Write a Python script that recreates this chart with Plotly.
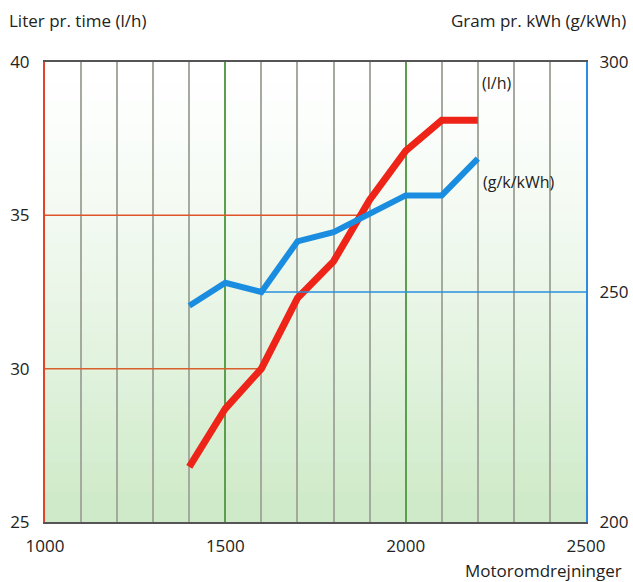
import plotly.graph_objects as go

rpm = [1400, 1500, 1600, 1700, 1800, 1900, 2000, 2100, 2200]
liter_per_hour = [26.8, 28.7, 30.0, 32.3, 33.5, 35.5, 37.1, 38.1, 38.1]
gram_per_kwh = [247, 252, 250, 261, 263, 267, 271, 271, 279]

ref_lh_35_x = [1000, 1870]
ref_lh_35_y = [35, 35]
ref_lh_30_x = [1000, 1600]
ref_lh_30_y = [30, 30]
ref_g_250_x = [1600, 2500]
ref_g_250_y = [250, 250]

x_ticks = [1000, 1500, 2000, 2500]
y_left_ticks = [25, 30, 35, 40]
y_right_ticks = [200, 250, 300]

FONT = "Open Sans"
RED = "#ee2418"
BLUE = "#1a8de0"

fig = go.Figure()

# background gradient (styling): white at top, pale green at bottom
shapes = []
n = 46
top_rgb = (255, 255, 255)
bot_rgb = (206, 234, 200)
for i in range(n):
    f0 = i / n
    f1 = (i + 1) / n
    t = 1 - (f0 + f1) / 2  # 1 at bottom, 0 at top
    t = min(1.0, t ** 1.3 * 1.05)
    c = tuple(round(top_rgb[k] + (bot_rgb[k] - top_rgb[k]) * t) for k in range(3))
    shapes.append(dict(type="rect", xref="paper", yref="paper", x0=0, x1=1, y0=f0, y1=f1 + 0.002,
                       fillcolor="rgb(%d,%d,%d)" % c, line=dict(width=0), layer="below"))

fig.add_trace(go.Scatter(x=ref_lh_35_x, y=ref_lh_35_y, mode="lines",
                         line=dict(color="#e0542a", width=1.5), showlegend=False))
fig.add_trace(go.Scatter(x=ref_lh_30_x, y=ref_lh_30_y, mode="lines",
                         line=dict(color="#d8602e", width=1.5), showlegend=False))
fig.add_trace(go.Scatter(x=ref_g_250_x, y=ref_g_250_y, mode="lines", yaxis="y2",
                         line=dict(color="#2a90e0", width=1.5), showlegend=False))

fig.add_trace(go.Scatter(x=rpm, y=gram_per_kwh, mode="lines", yaxis="y2",
                         line=dict(color=BLUE, width=6), showlegend=False))
fig.add_trace(go.Scatter(x=rpm, y=liter_per_hour, mode="lines",
                         line=dict(color=RED, width=7), showlegend=False))

fig.update_layout(
    width=633, height=582,
    margin=dict(l=45, r=47, t=62, b=60, autoexpand=False),
    paper_bgcolor="white", plot_bgcolor="rgba(0,0,0,0)",
    font=dict(family=FONT, size=17, color="#222222"),
    shapes=shapes,
    xaxis=dict(range=[1000, 2500], tickvals=x_ticks, showgrid=True,
               gridcolor="#5a9e4e", gridwidth=1.5,
               minor=dict(dtick=100, tick0=1000, showgrid=True, gridcolor="#a4aa9e", gridwidth=1.5),
               showline=True, linecolor="#555555", linewidth=2, mirror=True,
               ticks="", ticklabelstandoff=8, zeroline=False, automargin=False),
    yaxis=dict(range=[25, 40], tickvals=y_left_ticks, showgrid=False,
               showline=True, linecolor="#e0452a", linewidth=2,
               ticks="", ticklabelstandoff=10, zeroline=False, automargin=False),
    yaxis2=dict(range=[200, 300], tickvals=y_right_ticks, overlaying="y", side="right",
                showgrid=False, showline=True, linecolor="#2a8de0", linewidth=2,
                ticks="", ticklabelstandoff=8, zeroline=False, automargin=False),
    annotations=[
        dict(text="Liter pr. time (l/h)", xref="paper", yref="paper", x=-38/541, y=1+42/460,
             xanchor="left", yanchor="middle", showarrow=False, font=dict(size=17)),
        dict(text="Gram pr. kWh (g/kWh)", xref="paper", yref="paper", x=1+42/541, y=1+42/460,
             xanchor="right", yanchor="middle", showarrow=False, font=dict(size=17)),
        dict(text="Motoromdrejninger", xref="paper", yref="paper", x=1+38/541, y=-48/460,
             xanchor="right", yanchor="middle", showarrow=False, font=dict(size=17)),
        dict(text="(l/h)", xref="x", yref="y", x=2205, y=39.3,
             xanchor="left", yanchor="middle", showarrow=False, font=dict(size=16)),
        dict(text="(g/k/kWh)", xref="x", yref="y2", x=2210, y=274,
             xanchor="left", yanchor="middle", showarrow=False, font=dict(size=16)),
    ],
)

fig.write_html("out.html", config={"displayModeBar": False},
               post_script="document.body.style.margin='0';document.body.style.overflow='hidden';")
